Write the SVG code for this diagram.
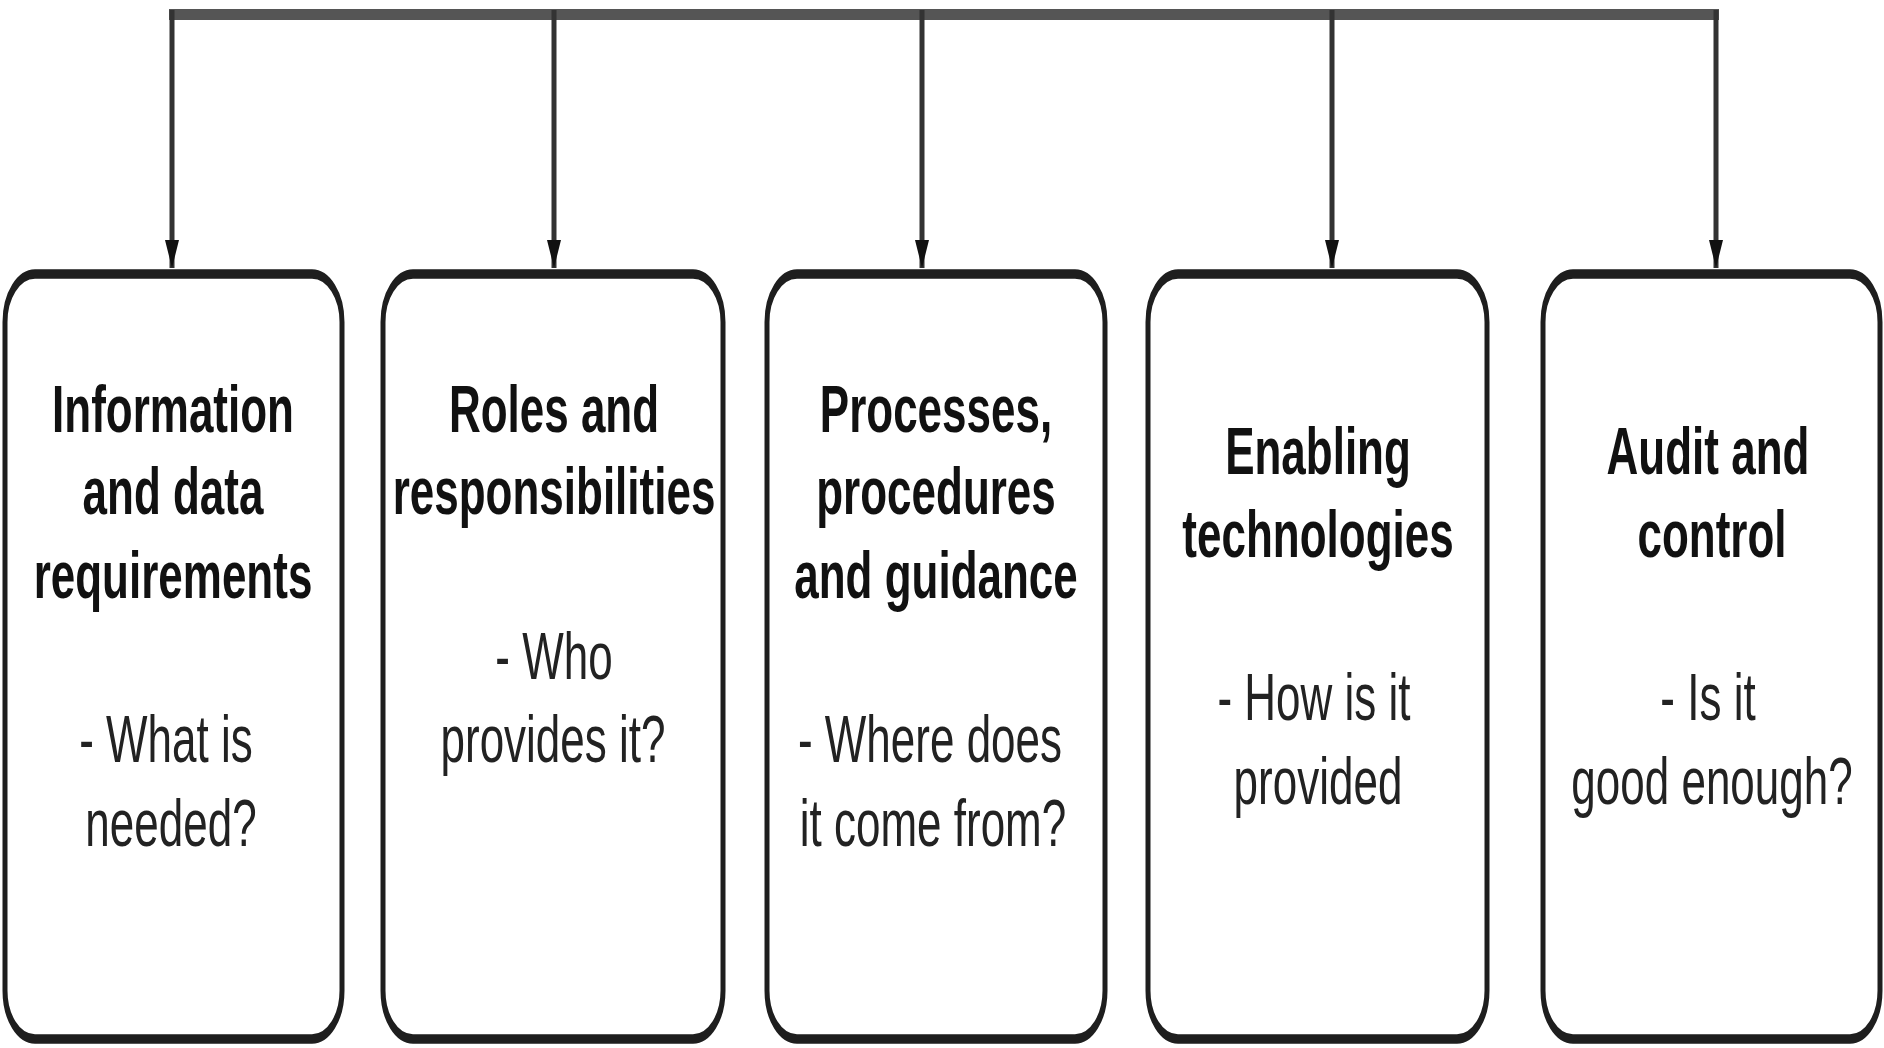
<svg xmlns="http://www.w3.org/2000/svg" width="1884" height="1048" viewBox="0 0 1884 1048">
<defs>
<marker id="arr" markerUnits="userSpaceOnUse" markerWidth="28" markerHeight="14" refX="28" refY="7" orient="auto" viewBox="0 0 28 14">
<path d="M0,0 L28,7 L0,14 Z" fill="#111"/>
</marker>
<style>
.box{fill:#fff;stroke:#1e1e1e;stroke-width:5}
.t{font-family:"Liberation Sans",Arial,sans-serif;font-size:44px;text-anchor:middle;fill:#111}
.b{font-weight:bold}
.q{fill:#222}
.bus{stroke:#555;stroke-width:11;fill:none}
.drop{stroke:#333;stroke-width:5;fill:none}
</style>
</defs>
<rect width="1884" height="1048" fill="#fff"/>
<g id="connectors">
<line class="bus" x1="169" y1="14.5" x2="1719" y2="14.5"/>
<line class="drop" x1="172" y1="10" x2="172" y2="268" marker-end="url(#arr)"/>
<line class="drop" x1="554" y1="10" x2="554" y2="268" marker-end="url(#arr)"/>
<line class="drop" x1="922" y1="10" x2="922" y2="268" marker-end="url(#arr)"/>
<line class="drop" x1="1332" y1="10" x2="1332" y2="268" marker-end="url(#arr)"/>
<line class="drop" x1="1716" y1="10" x2="1716" y2="268" marker-end="url(#arr)"/>
</g>
<g id="node1">
<rect class="box" transform="scale(1,1.9)" x="5" y="144.2" width="337" height="402.6" rx="30" ry="25.3"/>
<text class="t b" transform="translate(173,432) scale(1,1.5)">Information</text>
<text class="t b" transform="translate(173,514) scale(1,1.5)">and data</text>
<text class="t b" transform="translate(173,598) scale(1,1.5)">requirements</text>
<text class="t q" transform="translate(166,762) scale(1,1.5)">- What is</text>
<text class="t q" transform="translate(171,846) scale(1,1.5)">needed?</text>
</g>
<g id="node2">
<rect class="box" transform="scale(1,1.9)" x="383" y="144.2" width="340" height="402.6" rx="30" ry="25.3"/>
<text class="t b" transform="translate(554,432) scale(1,1.5)">Roles and</text>
<text class="t b" transform="translate(554,514) scale(1,1.5)">responsibilities</text>
<text class="t q" transform="translate(554,679) scale(1,1.5)">- Who</text>
<text class="t q" transform="translate(553,762) scale(1,1.5)">provides it?</text>
</g>
<g id="node3">
<rect class="box" transform="scale(1,1.9)" x="767" y="144.2" width="338" height="402.6" rx="30" ry="25.3"/>
<text class="t b" transform="translate(936,432) scale(1,1.5)">Processes,</text>
<text class="t b" transform="translate(936,514) scale(1,1.5)">procedures</text>
<text class="t b" transform="translate(936,598) scale(1,1.5)">and guidance</text>
<text class="t q" transform="translate(930,762) scale(1,1.5)">- Where does</text>
<text class="t q" transform="translate(933,846) scale(1,1.5)">it come from?</text>
</g>
<g id="node4">
<rect class="box" transform="scale(1,1.9)" x="1148" y="144.2" width="339" height="402.6" rx="30" ry="25.3"/>
<text class="t b" transform="translate(1318,474) scale(1,1.5)">Enabling</text>
<text class="t b" transform="translate(1318,557) scale(1,1.5)">technologies</text>
<text class="t q" transform="translate(1314,720) scale(1,1.5)">- How is it</text>
<text class="t q" transform="translate(1318,804) scale(1,1.5)">provided</text>
</g>
<g id="node5">
<rect class="box" transform="scale(1,1.9)" x="1543" y="144.2" width="337" height="402.6" rx="30" ry="25.3"/>
<text class="t b" transform="translate(1708,474) scale(1,1.5)">Audit and</text>
<text class="t b" transform="translate(1712,557) scale(1,1.5)">control</text>
<text class="t q" transform="translate(1708,720) scale(1,1.5)">- Is it</text>
<text class="t q" transform="translate(1712,804) scale(1,1.5)">good enough?</text>
</g>
</svg>
